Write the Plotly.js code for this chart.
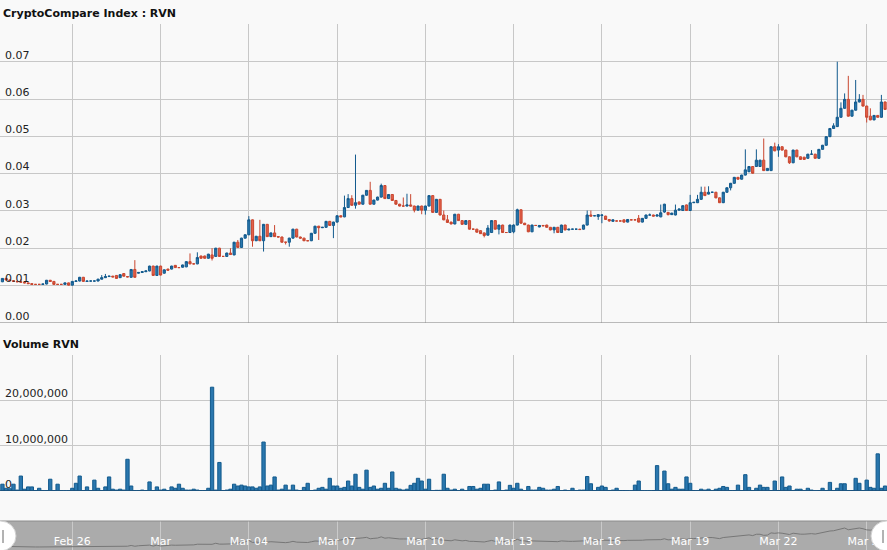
<!DOCTYPE html>
<html>
<head>
<meta charset="utf-8">
<script src="https://cdn.plot.ly/plotly-3.0.1.min.js"></script>
<style>
html,body{margin:0;padding:0;background:#f9f9f9;}
#chart{width:887px;height:550px;}
</style>
</head>
<body>
<div id="chart"></div>
<script>
// ---- DATA (3-hour candles, CryptoCompare Index RVN) ----
const firstCandle = Date.UTC(2018, 1, 23, 15, 0); // Feb 23 2018 15:00
const stepHours = 3;

const open = [
.0110,.0119,.0115,.0113,.0111,.0110,.0109,.0107,.0105,.0103,
.0103,.0103,.0104,.0114,.0111,.0103,.0103,.0103,.0107,.0101,
.0111,.0112,.0122,.0111,.0112,.0112,.0112,.0117,.0121,.0124,
.0125,.0127,.0121,.0132,.0124,.0122,.0143,.0133,.0135,.0137,
.0139,.0152,.0127,.0152,.0133,.0144,.0144,.0154,.0148,.0149,
.0150,.0164,.0158,.0158,.0179,.0179,.0173,.0182,.0178,.0200,
.0178,.0178,.0187,.0182,.0216,.0202,.0227,.0236,.0276,.0220,
.0232,.0220,.0264,.0231,.0241,.0231,.0230,.0216,.0216,.0227,
.0251,.0230,.0227,.0220,.0220,.0240,.0259,.0255,.0256,.0272,
.0261,.0270,.0287,.0284,.0309,.0333,.0315,.0324,.0318,.0342,
.0355,.0318,.0329,.0337,.0368,.0333,.0344,.0328,.0318,.0313,
.0313,.0316,.0313,.0302,.0313,.0302,.0313,.0341,.0296,.0331,
.0289,.0276,.0270,.0265,.0291,.0274,.0264,.0274,.0251,.0251,
.0247,.0241,.0235,.0242,.0274,.0251,.0262,.0242,.0242,.0244,
.0262,.0303,.0267,.0262,.0244,.0261,.0257,.0261,.0262,.0256,
.0249,.0256,.0242,.0262,.0249,.0251,.0251,.0251,.0251,.0262,
.0289,.0287,.0285,.0288,.0286,.0277,.0272,.0273,.0273,.0276,
.0270,.0276,.0276,.0280,.0270,.0280,.0289,.0289,.0286,.0284,
.0297,.0296,.0290,.0289,.0302,.0301,.0316,.0301,.0322,.0322,
.0331,.0350,.0345,.0350,.0350,.0335,.0322,.0350,.0362,.0374,
.0390,.0385,.0396,.0405,.0419,.0419,.0419,.0436,.0408,.0408,
.0472,.0463,.0472,.0463,.0445,.0429,.0463,.0445,.0444,.0441,
.0452,.0452,.0441,.0465,.0476,.0499,.0521,.0526,.0551,.0575,
.0599,.0554,.0570,.0592,.0599,.0581,.0554,.0544,.0556,.0551,
.0592
];
const high = [
.0120,.0120,.0116,.0114,.0112,.0117,.0111,.0108,.0106,.0104,
.0104,.0104,.0115,.0115,.0112,.0104,.0104,.0108,.0108,.0112,
.0114,.0123,.0123,.0112,.0113,.0113,.0118,.0128,.0131,.0126,
.0126,.0128,.0130,.0133,.0125,.0144,.0168,.0136,.0138,.0140,
.0153,.0153,.0153,.0153,.0143,.0145,.0153,.0155,.0149,.0156,
.0165,.0186,.0159,.0189,.0180,.0180,.0185,.0200,.0201,.0201,
.0179,.0188,.0200,.0217,.0222,.0228,.0237,.0286,.0277,.0233,
.0276,.0265,.0265,.0242,.0262,.0232,.0231,.0217,.0228,.0252,
.0252,.0231,.0228,.0221,.0241,.0260,.0260,.0257,.0273,.0273,
.0271,.0288,.0288,.0341,.0345,.0342,.0451,.0325,.0343,.0356,
.0378,.0330,.0338,.0373,.0369,.0345,.0345,.0329,.0319,.0336,
.0346,.0345,.0314,.0314,.0314,.0314,.0342,.0342,.0332,.0332,
.0301,.0289,.0271,.0292,.0292,.0275,.0275,.0275,.0252,.0252,
.0248,.0242,.0262,.0275,.0275,.0263,.0263,.0243,.0263,.0264,
.0306,.0304,.0268,.0263,.0263,.0262,.0262,.0262,.0263,.0257,
.0257,.0257,.0263,.0263,.0252,.0252,.0252,.0252,.0263,.0301,
.0301,.0288,.0291,.0290,.0287,.0278,.0277,.0274,.0274,.0277,
.0278,.0277,.0277,.0289,.0281,.0290,.0293,.0290,.0291,.0317,
.0319,.0297,.0295,.0317,.0306,.0315,.0317,.0343,.0324,.0343,
.0365,.0365,.0366,.0351,.0351,.0336,.0351,.0363,.0375,.0391,
.0391,.0397,.0465,.0420,.0420,.0465,.0437,.0494,.0415,.0473,
.0483,.0479,.0473,.0464,.0446,.0464,.0464,.0446,.0445,.0453,
.0463,.0453,.0466,.0477,.0500,.0522,.0535,.0700,.0591,.0615,
.0662,.0571,.0651,.0613,.0611,.0582,.0575,.0557,.0557,.0611,
.0593
];
const low = [
.0109,.0114,.0112,.0110,.0109,.0108,.0106,.0104,.0102,.0102,
.0102,.0103,.0103,.0110,.0102,.0102,.0102,.0103,.0100,.0100,
.0110,.0111,.0110,.0110,.0111,.0111,.0111,.0116,.0120,.0123,
.0122,.0118,.0120,.0124,.0122,.0121,.0121,.0132,.0134,.0136,
.0138,.0126,.0126,.0127,.0132,.0140,.0143,.0147,.0147,.0148,
.0149,.0157,.0157,.0157,.0172,.0172,.0172,.0167,.0177,.0177,
.0177,.0177,.0182,.0181,.0201,.0201,.0226,.0235,.0204,.0219,
.0219,.0191,.0230,.0230,.0230,.0229,.0215,.0210,.0204,.0226,
.0229,.0226,.0219,.0219,.0219,.0239,.0222,.0254,.0255,.0260,
.0227,.0269,.0283,.0283,.0308,.0314,.0306,.0317,.0317,.0341,
.0317,.0317,.0328,.0336,.0332,.0332,.0327,.0317,.0312,.0312,
.0312,.0312,.0296,.0301,.0291,.0290,.0312,.0295,.0295,.0288,
.0275,.0268,.0264,.0264,.0273,.0263,.0263,.0250,.0250,.0242,
.0238,.0229,.0234,.0241,.0250,.0237,.0241,.0241,.0241,.0240,
.0261,.0266,.0262,.0243,.0243,.0260,.0256,.0259,.0255,.0248,
.0240,.0241,.0241,.0248,.0248,.0250,.0250,.0249,.0250,.0261,
.0285,.0286,.0276,.0267,.0276,.0271,.0271,.0272,.0272,.0268,
.0269,.0275,.0275,.0269,.0269,.0279,.0288,.0285,.0285,.0283,
.0295,.0288,.0289,.0288,.0301,.0300,.0300,.0300,.0321,.0321,
.0330,.0340,.0344,.0349,.0334,.0321,.0321,.0349,.0355,.0373,
.0384,.0384,.0395,.0404,.0400,.0418,.0418,.0407,.0407,.0407,
.0460,.0445,.0462,.0444,.0426,.0428,.0444,.0437,.0437,.0440,
.0451,.0440,.0440,.0464,.0475,.0498,.0520,.0525,.0550,.0574,
.0553,.0553,.0569,.0591,.0580,.0537,.0543,.0543,.0550,.0550,
.0571
];
const close = [
.0119,.0115,.0113,.0111,.0110,.0109,.0107,.0105,.0103,.0103,
.0103,.0104,.0114,.0111,.0103,.0103,.0103,.0107,.0101,.0111,
.0112,.0122,.0111,.0112,.0112,.0112,.0117,.0121,.0124,.0125,
.0123,.0119,.0129,.0125,.0123,.0143,.0122,.0135,.0137,.0139,
.0152,.0127,.0152,.0128,.0142,.0141,.0152,.0148,.0148,.0155,
.0164,.0158,.0158,.0175,.0173,.0173,.0184,.0173,.0200,.0178,
.0178,.0187,.0183,.0216,.0202,.0227,.0236,.0276,.0220,.0232,
.0220,.0264,.0231,.0241,.0231,.0230,.0216,.0216,.0227,.0251,
.0230,.0227,.0220,.0220,.0240,.0259,.0255,.0256,.0272,.0261,
.0270,.0287,.0284,.0309,.0333,.0315,.0322,.0318,.0342,.0355,
.0318,.0329,.0337,.0368,.0333,.0344,.0328,.0318,.0313,.0313,
.0316,.0313,.0302,.0313,.0302,.0313,.0341,.0296,.0331,.0289,
.0276,.0269,.0265,.0291,.0274,.0264,.0274,.0251,.0251,.0243,
.0239,.0234,.0254,.0274,.0251,.0262,.0242,.0242,.0262,.0262,
.0303,.0267,.0263,.0244,.0262,.0261,.0261,.0260,.0256,.0249,
.0256,.0242,.0262,.0249,.0251,.0251,.0251,.0250,.0262,.0289,
.0286,.0287,.0290,.0289,.0277,.0273,.0276,.0273,.0273,.0270,
.0277,.0276,.0276,.0270,.0280,.0289,.0289,.0286,.0289,.0295,
.0318,.0290,.0294,.0302,.0305,.0314,.0301,.0322,.0323,.0331,
.0350,.0341,.0350,.0350,.0335,.0322,.0350,.0362,.0374,.0390,
.0385,.0396,.0410,.0419,.0401,.0436,.0436,.0408,.0414,.0472,
.0461,.0472,.0463,.0445,.0429,.0463,.0445,.0438,.0438,.0452,
.0452,.0441,.0465,.0476,.0499,.0521,.0528,.0551,.0575,.0599,
.0554,.0570,.0592,.0599,.0581,.0551,.0544,.0556,.0551,.0592,
.0572
];
const volume = [
1500000,600000,500000,1500000,200000,3300000,400000,900000,900000,100000,
600000,100000,100000,2600000,100000,1500000,50000,50000,50000,600000,
1700000,3300000,100000,900000,100000,2400000,600000,100000,900000,3100000,
400000,200000,400000,200000,7000000,1100000,100000,100000,200000,100000,
2000000,100000,900000,200000,400000,100000,900000,600000,1500000,600000,
200000,200000,400000,200000,100000,100000,600000,22900000,200000,6300000,
100000,200000,400000,1500000,1100000,1300000,1100000,900000,900000,600000,
900000,10800000,1100000,1300000,3100000,200000,400000,1300000,200000,1300000,
200000,100000,800000,1700000,100000,200000,600000,800000,400000,2800000,
1100000,1100000,600000,800000,2200000,1100000,3700000,800000,400000,4600000,
800000,1100000,400000,600000,1700000,600000,4200000,600000,400000,200000,
400000,1250000,1700000,2800000,2200000,400000,2600000,50000,150000,150000,
3700000,600000,200000,400000,50000,400000,50000,1000000,1000000,400000,
600000,1500000,1500000,50000,200000,2000000,50000,200000,1250000,600000,
1700000,400000,50000,1000000,200000,200000,800000,600000,200000,200000,
400000,1000000,50000,200000,50000,600000,50000,200000,200000,3200000,
1600000,100000,800000,1100000,800000,100000,200000,600000,100000,100000,
50000,50000,1300000,2200000,50000,50000,50000,100000,5600000,100000,
4400000,1600000,400000,800000,400000,400000,3100000,1700000,100000,50000,
400000,200000,400000,50000,400000,600000,1000000,800000,100000,100000,
1300000,100000,3600000,800000,100000,600000,1300000,800000,800000,100000,
2200000,100000,3100000,800000,1100000,100000,400000,400000,50000,600000,
200000,50000,100000,600000,100000,1900000,100000,600000,1600000,1600000,
100000,100000,2800000,1700000,100000,2400000,800000,600000,8200000,600000,
1100000
];

const dateTicks = ['2018-02-26','2018-03-01','2018-03-04','2018-03-07','2018-03-10',
                   '2018-03-13','2018-03-16','2018-03-19','2018-03-22','2018-03-25'];
const dateTickLabels = ['Feb 26','Mar','Mar 04','Mar 07','Mar 10','Mar 13','Mar 16','Mar 19','Mar 22','Mar 25'];
const priceTicks = [0,0.01,0.02,0.03,0.04,0.05,0.06,0.07,0.08];
const priceTickLabels = ['0.00','0.01','0.02','0.03','0.04','0.05','0.06','0.07',''];
const volTicks = [0,10000000,20000000,30000000];
const volTickLabels = ['0','10,000,000','20,000,000',''];

const priceTitle = 'CryptoCompare Index : RVN';
const volumeTitle = 'Volume RVN';

// timestamps of the candles
function pad(n){return (n<10?'0':'')+n;}
const times = open.map((_, i) => {
  const d = new Date(firstCandle + i*stepHours*3600000);
  return d.getUTCFullYear()+'-'+pad(d.getUTCMonth()+1)+'-'+pad(d.getUTCDate())+' '+pad(d.getUTCHours())+':00';
});

// ---- LAYOUT ----
const W = 887, H = 550;
const py = px => 1 - px / H;           // pixel row -> paper y
const xRange = ['2018-02-23 13:01', '2018-03-25 16:34'];
const gridCol = '#c8c8c8';
const blueFill = '#2a77ae', blueLine = '#125a8d';
const redFill = '#e2604b', redLine = '#c9462f';
const font = 'DejaVu Sans, Verdana, sans-serif';

const traces = [
  {
    type: 'candlestick', x: times, open: open, high: high, low: low, close: close,
    xaxis: 'x', yaxis: 'y',
    increasing: {line: {color: blueLine, width: 1}, fillcolor: blueFill},
    decreasing: {line: {color: redLine, width: 1}, fillcolor: redFill},
    whiskerwidth: 0, hoverinfo: 'skip'
  },
  {
    type: 'bar', x: times, y: volume, xaxis: 'x2', yaxis: 'y2',
    marker: {color: blueFill, line: {color: blueLine, width: 1}},
    hoverinfo: 'skip'
  },
  {
    type: 'scatter', mode: 'lines', x: times, y: close, xaxis: 'x3', yaxis: 'y3',
    line: {color: '#777777', width: 1}, hoverinfo: 'skip'
  }
];

const xBase = {
  type: 'date', range: xRange, tickvals: dateTicks, ticktext: dateTickLabels,
  showgrid: true, gridcolor: gridCol, gridwidth: 1, zeroline: false, showline: false,
  ticks: '', fixedrange: true
};

const layout = {
  width: W, height: H,
  margin: {l: 0, r: 0, t: 0, b: 0, pad: 0},
  paper_bgcolor: '#f9f9f9', plot_bgcolor: 'rgba(0,0,0,0)',
  showlegend: false, hovermode: false, bargap: 0.1, boxgap: 0.15,
  xaxis: Object.assign({}, xBase, {domain: [0, 1], anchor: 'y', showticklabels: false, rangeslider: {visible: false}}),
  xaxis2: Object.assign({}, xBase, {domain: [0, 1], anchor: 'y2', showticklabels: false}),
  xaxis3: Object.assign({}, xBase, {
    domain: [0, 1], anchor: 'y3', showticklabels: true,
    ticklabelposition: 'inside', ticklabelstandoff: 0, ticklabeloverflow: 'allow',
    gridcolor: 'rgba(215,215,215,0.7)',
    tickfont: {family: font, size: 11, color: '#ffffff'}
  }),
  yaxis: {
    domain: [py(322.8), py(24.4)], range: [0, 0.08], anchor: 'x',
    tickvals: priceTicks, ticktext: priceTickLabels,
    ticklabelposition: 'inside', ticklabelshift: -7, ticklabelstandoff: 2, ticklabeloverflow: 'allow',
    tickfont: {family: font, size: 11, color: '#222222'},
    showgrid: true, gridcolor: gridCol, zeroline: false, showline: false, ticks: '', fixedrange: true
  },
  yaxis2: {
    domain: [py(491), py(355)], range: [0, 30000000], anchor: 'x2',
    tickvals: volTicks, ticktext: volTickLabels,
    ticklabelposition: 'inside', ticklabelshift: -7, ticklabelstandoff: 2, ticklabeloverflow: 'allow',
    tickfont: {family: font, size: 11, color: '#222222'},
    showgrid: true, gridcolor: gridCol, zeroline: false, showline: false, ticks: '', fixedrange: true
  },
  yaxis3: {
    domain: [0, py(521)], range: [0.0024, 0.0783], anchor: 'x3',
    visible: false, showgrid: false, fixedrange: true
  },
  shapes: [
    // navigator band
    {type: 'rect', xref: 'paper', yref: 'paper', x0: 0, x1: 1, y0: 0, y1: py(521),
     fillcolor: '#ababab', line: {width: 0}, layer: 'below'},
    {type: 'line', xref: 'paper', yref: 'paper', x0: 0, x1: 1, y0: py(521), y1: py(521),
     line: {color: '#8c8c8c', width: 1}},
    // axis base lines
    {type: 'line', xref: 'paper', yref: 'y', x0: 0, x1: 1, y0: 0, y1: 0, line: {color: '#8a8a8a', width: 1.2}},
    {type: 'line', xref: 'paper', yref: 'y2', x0: 0, x1: 1, y0: 0, y1: 0, line: {color: '#1d4f78', width: 1.5}},
    // navigator handles
    {type: 'circle', xref: 'paper', yref: 'paper', x0: -15/W, x1: 16/W, y0: py(551), y1: py(521),
     fillcolor: '#ffffff', line: {color: '#d0d0d0', width: 1}},
    {type: 'circle', xref: 'paper', yref: 'paper', x0: 871/W, x1: 902/W, y0: py(551), y1: py(521),
     fillcolor: '#ffffff', line: {color: '#d0d0d0', width: 1}},
    {type: 'line', xref: 'paper', yref: 'paper', x0: 3/W, x1: 3/W, y0: py(543), y1: py(530),
     line: {color: '#666666', width: 1}},
    {type: 'line', xref: 'paper', yref: 'paper', x0: 883/W, x1: 883/W, y0: py(543), y1: py(530),
     line: {color: '#666666', width: 1}}
  ],
  annotations: [
    {text: '<b>' + priceTitle + '</b>', xref: 'paper', yref: 'paper', x: 1/W, y: py(13.5),
     xanchor: 'left', yanchor: 'middle', showarrow: false,
     font: {family: font, size: 11, color: '#111111'}},
    {text: '<b>' + volumeTitle + '</b>', xref: 'paper', yref: 'paper', x: 1/W, y: py(344),
     xanchor: 'left', yanchor: 'middle', showarrow: false,
     font: {family: font, size: 11, color: '#111111'}}
  ]
};

Plotly.newPlot('chart', traces, layout, {staticPlot: true, displayModeBar: false});
</script>
</body>
</html>
